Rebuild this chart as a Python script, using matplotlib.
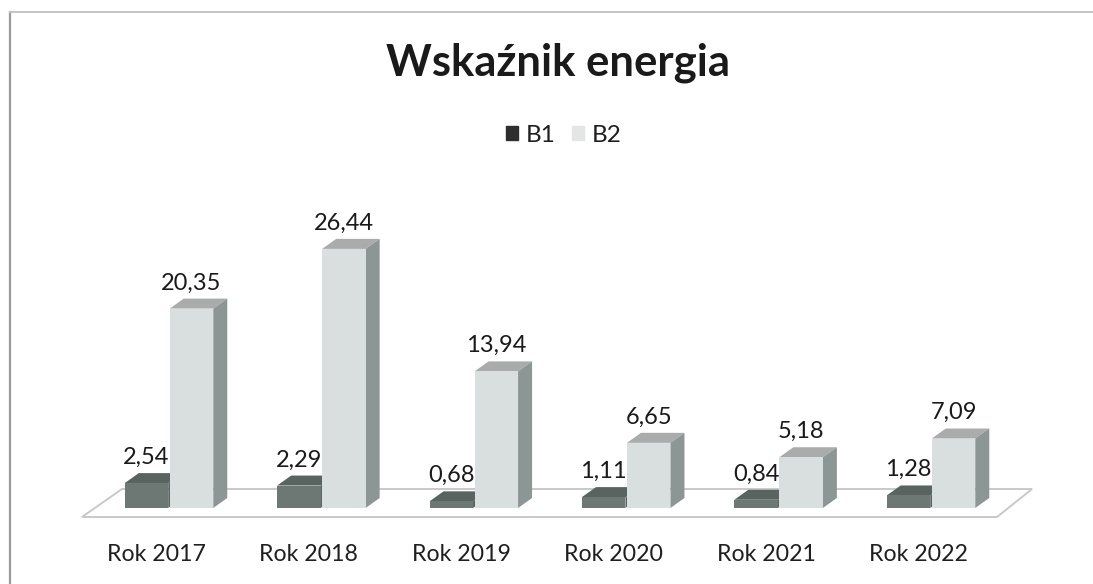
import numpy as np
import matplotlib
matplotlib.use('Agg')
import matplotlib.pyplot as plt
from matplotlib.patches import Polygon, Patch
from matplotlib.lines import Line2D

years = ['Rok 2017', 'Rok 2018', 'Rok 2019', 'Rok 2020', 'Rok 2021', 'Rok 2022']
b1 = [2.54, 2.29, 0.68, 1.11, 0.84, 1.28]
b2 = [20.35, 26.44, 13.94, 6.65, 5.18, 7.09]

W, H = 1093, 584
plt.rcParams['font.family'] = ['Lato', 'DejaVu Sans']

# pixels per unit
px_group = 152.4
px_value = 9.8
x0 = 169     # centre of first group
y0 = 508     # bar base
ax_bottom = 530
depth_x = 14 / px_group
depth_y = 10 / px_value
w = 43.5 / px_group

fig = plt.figure(figsize=(W / 100, H / 100), dpi=100)
ax = fig.add_axes([0, 1 - ax_bottom / H, 1, ax_bottom / H])
ax.set_xlim(-x0 / px_group, (W - x0) / px_group)
ax.set_ylim((y0 - ax_bottom) / px_value, y0 / px_value)
for s in ax.spines.values():
    s.set_visible(False)
ax.set_yticks([])


def to_x(p):
    return (p - x0) / px_group


def to_y(p):
    return (y0 - p) / px_value


# floor
floor = Polygon([(to_x(82), to_y(517)), (to_x(122), to_y(489)), (to_x(1032), to_y(489)), (to_x(997), to_y(517))],
                closed=True, fc='white', ec='#c9c9c9', lw=1.4, zorder=1)
ax.add_patch(floor)


def bars3d(xs, vals, front, top, side, z):
    ax.bar(xs, vals, width=w, color=front, zorder=z + 0.2)
    for x, v in zip(xs, vals):
        l, r = x - w / 2, x + w / 2
        ax.add_patch(Polygon([(l, v), (l + depth_x, v + depth_y), (r + depth_x, v + depth_y), (r, v)],
                             fc=top, ec='none', zorder=z))
        ax.add_patch(Polygon([(r, 0), (r + depth_x, depth_y), (r + depth_x, v + depth_y), (r, v)],
                             fc=side, ec='none', zorder=z))


pos = np.arange(len(years))
xs1 = pos - w / 2 - 0.005
xs2 = pos + w / 2 + 0.005
bars3d(xs1, b1, '#6d7774', '#59635f', '#59635f', 2)
bars3d(xs2, b2, '#d9dedf', '#aaacab', '#8c9695', 3)

for xs, vals in ((xs1, b1), (xs2, b2)):
    for x, v in zip(xs, vals):
        ax.annotate(f'{v:.2f}'.replace('.', ','), (x, v), xytext=(0, 18.5), textcoords='offset points',
                    ha='center', va='center', fontsize=17, color='#1a1a1a', zorder=6)

# labels sit a bit left of the groups in the original
ax.set_xticks(pos - 12.5 / px_group)
ax.set_xticklabels(years, fontsize=16.7, color='#1f1f1f')
ax.tick_params(axis='x', length=0, pad=10)

fig.suptitle('Wskaźnik energia', x=558 / W, y=1 - 63 / H, va='center', fontsize=31.4, fontweight='bold',
             color='#1a1a1a')

handles = [Patch(color='#2e2e2e', label='B1'), Patch(color='#e4e6e6', label='B2')]
fig.legend(handles=handles, loc='center', bbox_to_anchor=(564 / W, 1 - 135 / H), ncols=2, frameon=False,
           fontsize=17.5, handlelength=0.5, handleheight=0.5, handletextpad=0.32, columnspacing=0.66,
           labelcolor='#1f1f1f')

# frame of the scanned chart
fig.add_artist(Line2D([10 / W, 10 / W], [0, 1 - 12 / H], color='#9a9a9a', lw=1.6))
fig.add_artist(Line2D([10 / W, 1], [1 - 12 / H, 1 - 12 / H], color='#c4c4c4', lw=1.4))

fig.savefig('out.png', dpi=100)
